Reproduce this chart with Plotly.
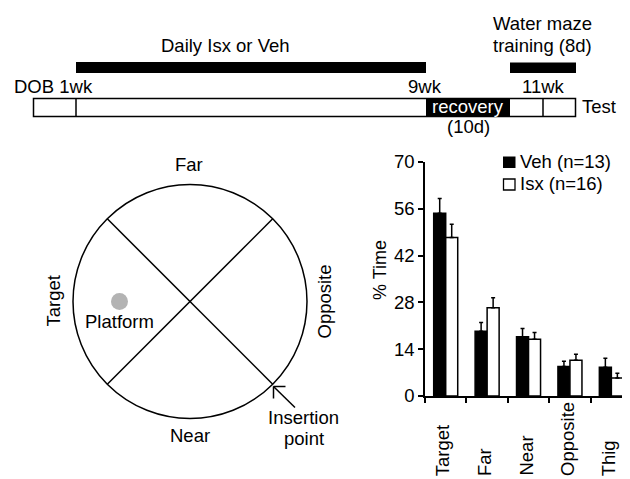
import plotly.graph_objects as go

# ---------------- data ----------------
categories = ["Target", "Far", "Near", "Opposite", "Thig"]
veh_values = [54.7, 19.4, 17.7, 8.8, 8.6]
veh_errors = [4.4, 2.6, 2.5, 1.6, 2.7]
isx_values = [47.4, 26.4, 17.0, 10.7, 5.4]
isx_errors = [4.0, 3.0, 2.0, 1.8, 1.4]
y_ticks = [0, 14, 28, 42, 56, 70]
legend_labels = ["Veh (n=13)", "Isx (n=16)"]
quadrant_labels = ["Far", "Target", "Opposite", "Near"]

# The page body has an 8px margin, so the figure is drawn at (8, 8)
# inside the 630x479 window.  Coordinates below are window pixels.
OFF = 8
W, H = 630 - OFF, 479 - OFF
FONT = "Liberation Sans, Arial, sans-serif"
FS = 18.5


def px(x):
    return (x - OFF) / W


def py(y):
    return 1 - (y - OFF) / H


fig = go.Figure()

fig.add_trace(go.Bar(
    x=categories, y=veh_values, name=legend_labels[0],
    marker=dict(color="black", line=dict(color="black", width=1.5)),
    error_y=dict(type="data", symmetric=False, array=veh_errors,
                 arrayminus=[0] * len(veh_errors), color="black",
                 thickness=1.5, width=2),
))
fig.add_trace(go.Bar(
    x=categories, y=isx_values, name=legend_labels[1],
    marker=dict(color="white", line=dict(color="black", width=1.5)),
    error_y=dict(type="data", symmetric=False, array=isx_errors,
                 arrayminus=[0] * len(isx_errors), color="black",
                 thickness=1.5, width=2),
))

shapes = []
annotations = []


def rect(x0, y0, x1, y1, fill="black", line_w=0, line_c="black"):
    shapes.append(dict(type="rect", xref="paper", yref="paper",
                       x0=px(x0), x1=px(x1), y0=py(y0), y1=py(y1),
                       fillcolor=fill, line=dict(width=line_w, color=line_c)))


def line(x0, y0, x1, y1, w=1.5):
    shapes.append(dict(type="line", xref="paper", yref="paper",
                       x0=px(x0), x1=px(x1), y0=py(y0), y1=py(y1),
                       line=dict(color="black", width=w)))


def text(t, x, y, xanchor="center", angle=0, color="black", size=FS):
    annotations.append(dict(text=t, xref="paper", yref="paper",
                            x=px(x), y=py(y), xanchor=xanchor, yanchor="middle",
                            textangle=angle, showarrow=False,
                            font=dict(family=FONT, size=size, color=color)))


# ---------------- timeline ----------------
rect(76, 62, 426, 73)              # Daily Isx or Veh bar
rect(510, 62.5, 576, 73)           # water maze bar
rect(33.5, 98.5, 575.5, 116.5, fill="white", line_w=1.5)
rect(426, 98.5, 510, 116.5)        # recovery
line(76, 98.5, 76, 116.5)
line(543, 98.5, 543, 116.5)

text("Daily Isx or Veh", 225.5, 46)
text("Water maze", 542.5, 23.5)
text("training (8d)", 542.5, 46)
text("DOB 1wk", 12, 87, xanchor="left")
text("9wk", 425, 87)
text("11wk", 543.5, 87)
text("recovery", 468, 107, color="white")
text("(10d)", 468, 127)
text("Test", 580, 107, xanchor="left")

# ---------------- maze diagram ----------------
cx, cy, r = 190, 301.5, 117
shapes.append(dict(type="circle", xref="paper", yref="paper",
                   x0=px(cx - r), x1=px(cx + r), y0=py(cy + r), y1=py(cy - r),
                   line=dict(color="black", width=1.5)))
d = r * 0.7071
line(cx - d, cy - d, cx + d, cy + d)
line(cx - d, cy + d, cx + d, cy - d)
pr = 8.5
shapes.append(dict(type="circle", xref="paper", yref="paper",
                   x0=px(119.5 - pr), x1=px(119.5 + pr), y0=py(301.5 + pr), y1=py(301.5 - pr),
                   fillcolor="#b3b3b3", line=dict(width=0)))
text("Platform", 119.5, 321)
text(quadrant_labels[0], 189, 165)
text(quadrant_labels[1], 53, 301.5, angle=-90)
text(quadrant_labels[2], 324, 301.5, angle=-90)
text(quadrant_labels[3], 189.5, 435)
text("Insertion", 303.5, 417.5)
text("point", 304, 438.5)
# arrow
hx, hy = 273.5, 386.5
line(hx, hy, 295, 407.5, w=1.5)
line(hx, hy, hx + 12, hy, w=1.5)
line(hx, hy, hx, hy + 12, w=1.5)

# ---------------- bar chart legend ----------------
rect(503, 156.5, 515.5, 168)
text(legend_labels[0], 518, 162, xanchor="left")
rect(503.5, 179, 515, 190, fill="white", line_w=1.3)
text(legend_labels[1], 518, 184, xanchor="left")

# y-axis title
text("% Time", 380, 270, angle=-90, size=18)

# category labels (rotated, bottom aligned)
for c in categories:
    annotations.append(dict(text=c, xref="x", yref="paper", x=c, y=py(478),
                            xanchor="center", yanchor="bottom", xshift=-3,
                            textangle=-90, showarrow=False,
                            font=dict(family=FONT, size=FS, color="black")))

fig.update_layout(
    width=W, height=H,
    margin=dict(l=0, r=0, t=0, b=0, pad=0, autoexpand=False),
    paper_bgcolor="white", plot_bgcolor="white",
    showlegend=False,
    barmode="group", bargap=0.42, bargroupgap=0,
    font=dict(family=FONT, size=FS, color="black"),
    xaxis=dict(domain=[px(425), 1.0], range=[-0.5, 4.45],
               showline=True, linecolor="black", linewidth=1.5,
               ticks="outside", tickson="boundaries", ticklen=5,
               tickwidth=1.5, tickcolor="black",
               showticklabels=False, showgrid=False, zeroline=False,
               fixedrange=True),
    yaxis=dict(domain=[py(396), py(162)], range=[0, 70],
               tickvals=y_ticks, ticktext=[str(v) for v in y_ticks],
               showline=True, linecolor="black", linewidth=1.5,
               ticks="outside", ticklen=5, tickwidth=1.5, tickcolor="black",
               tickfont=dict(family=FONT, size=FS, color="black"),
               showgrid=False, zeroline=False, fixedrange=True),
    shapes=shapes,
    annotations=annotations,
)

fig.write_html("out.html")
